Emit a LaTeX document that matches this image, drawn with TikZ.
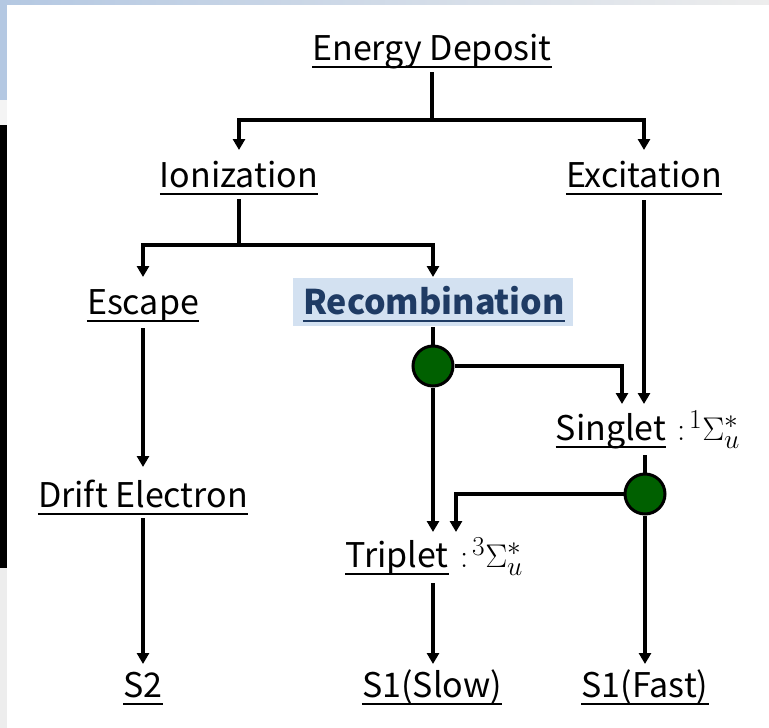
\documentclass[tikz,border=0pt]{standalone}
\usepackage{fontspec}
\setmainfont{Noto Sans CJK JP}
\usetikzlibrary{arrows.meta,calc}
\definecolor{recbox}{HTML}{D3E1F1}
\definecolor{rectext}{HTML}{1F3B64}
\definecolor{dotgreen}{HTML}{006000}
\definecolor{slideblue}{HTML}{B4C8E2}
\definecolor{slidegray}{HTML}{EDEDED}
\begin{document}
\begin{tikzpicture}[x=1pt,y=-1pt,
  lbl/.style={anchor=base,inner sep=0pt,font=\fontsize{34}{40}\selectfont},
  mth/.style={anchor=base west,inner sep=0pt,font=\fontsize{24.88}{30}\selectfont},
  flow/.style={line width=3.2pt,-{Triangle[width=12pt,length=11pt]}},
  wire/.style={line width=3.2pt},
  ul/.style={line width=2.2pt},
  dot/.style={circle,fill=dotgreen,draw=black,line width=3pt,minimum size=40pt,inner sep=0pt}]
\useasboundingbox (0,0) rectangle (769,728);
\fill[white] (0,0) rectangle (769,728);
% slide edges
\shade[left color=slideblue,right color=slidegray] (0,0) rectangle (769,4);
\fill[slideblue] (0,0) rectangle (7,100);
\fill[slidegray!60] (0,100) rectangle (7,125);
\fill[black] (0,125) rectangle (7,568);
\fill[slidegray] (0,568) rectangle (7,728);
% nodes
\node[lbl] (ed) at (432,60) {Energy Deposit};
\node[lbl] (ion) at (239,187) {Ionization};
\node[lbl] (exc) at (644,187) {Excitation};
\node[lbl] (esc) at (143,314) {Escape};
\node[fill=recbox,minimum width=280pt,minimum height=48pt,inner sep=0pt] (recbg) at (433,302) {};
\node[lbl,text=rectext,font=\fontsize{34}{40}\selectfont\bfseries] (rec) at (434,314) {Recombination};
\node[lbl] (sing) at (611,440) {Singlet};
\node[mth] (singm) at (677,440) {\scalebox{1.32}{$:\!{}^{1}\Sigma_u^{*}$}};
\node[lbl] (drift) at (143,507) {Drift Electron};
\node[lbl] (trip) at (397,567) {Triplet};
\node[mth] (tripm) at (460,567) {\scalebox{1.32}{$:\!{}^{3}\Sigma_u^{*}$}};
\node[lbl] (s2) at (143,697) {S2};
\node[lbl] (s1s) at (432,697) {S1(Slow)};
\node[lbl] (s1f) at (645,697) {S1(Fast)};
\node[dot] (d1) at (433,366) {};
\node[dot] (d2) at (645,494) {};
% underlines
\foreach \n in {ed,ion,exc,esc,sing,drift,trip,s2,s1s,s1f}
  \draw[ul] ($(\n.base west)+(0,7)$) -- ($(\n.base east)+(0,7)$);
\draw[ul,rectext] ($(rec.base west)+(0,7)$) -- ($(rec.base east)+(0,7)$);
% connectors
\coordinate (edj) at (432,120);
\draw[wire] (ed.base |- 0,72) -- (edj);
\draw[flow] (edj) -| (ion.base |- 0,150);
\draw[flow] (edj) -| (exc.base |- 0,150);
\coordinate (ionj) at (239,245);
\draw[wire] (ion.base |- 0,199) -- (ionj);
\draw[flow] (ionj) -| (esc.base |- 0,277);
\draw[flow] (ionj) -| (433,277);
\draw[flow] (exc.base |- 0,200) -- (exc.base |- 0,404);
\draw[wire] (433,327) -- (d1.north);
\draw[flow] (d1.east) -| (622,404);
\draw[flow] (d1.south) -- (433,532);
\draw[wire] (645,455) -- (d2.north);
\draw[flow] (d2.west) -| (456,532);
\draw[flow] (d2.south) -- (645,664);
\draw[flow] (433,583) -- (433,664);
\draw[flow] (143,328) -- (143,467);
\draw[flow] (143,518) -- (143,664);
\end{tikzpicture}
\end{document}
